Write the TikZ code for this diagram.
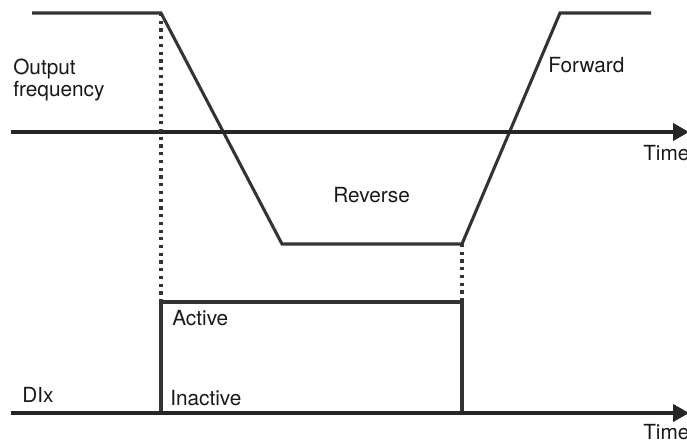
\documentclass[tikz,border=0pt]{standalone}
\usepackage{fontspec}
\setmainfont{TeX Gyre Heros}
\usetikzlibrary{arrows.meta, positioning}

\begin{document}
\begin{tikzpicture}[x=0.75pt, y=-0.75pt,
        wave/.style={line width=2.3pt, draw=black!80, line join=miter},
        axis/.style={line width=2.3pt, draw=black!85, -{Triangle[length=12pt, width=13pt]}},
        guide/.style={line width=2.6pt, draw=black!80, dash pattern=on 2.4pt off 3.4pt},
        lbl/.style={font=\fontsize{15.6}{14.3}\selectfont, text=black!90, inner sep=0pt, anchor=base west}]
        \useasboundingbox (0,0) rectangle (687,444);

        % Output frequency curve
        \coordinate (f0) at (32,13);
        \coordinate (f1) at (161,13);
        \coordinate (f2) at (282,244);
        \coordinate (f3) at (462,244);
        \coordinate (f4) at (560,13);
        \coordinate (f5) at (651,13);
        \draw[wave] (f0) -- (f1) -- (f2) -- (f3) -- (f4) -- (f5);

        % DIx pulse
        \coordinate (d0) at (11,413);
        \coordinate (d1) at (161,413);
        \coordinate (d2) at (161,302);
        \coordinate (d3) at (462,302);
        \coordinate (d4) at (462,413);
        \coordinate (d5) at (689,413);
        \draw[wave] (d1) -- (d2) -- (d3) -- (d4);

        % Time axes
        \coordinate (a0) at (11,132);
        \coordinate (a1) at (689,132);
        \draw[axis] (a0) -- (a1);
        \draw[axis] (d0) -- (d5);

        % Dotted guide lines
        \draw[guide] (f1) -- (d2);
        \draw[guide] (f3) -- (d3);

        % Labels
        \node[lbl, align=left] (outfreq) at (13,96) {Output\\frequency};
        \node[lbl] (fwd) at (548,72) {Forward};
        \node[lbl] (rev) at (333,202) {Reverse};
        \node[lbl] (time1) at (643,160) {Time};
        \node[lbl] (act) at (172,325) {Active};
        \node[lbl] (inact) at (170,405) {Inactive};
        \node[lbl] (dix) at (22,402) {DIx};
        \node[lbl] (time2) at (643,439) {Time};
    \end{tikzpicture}
\end{document}
